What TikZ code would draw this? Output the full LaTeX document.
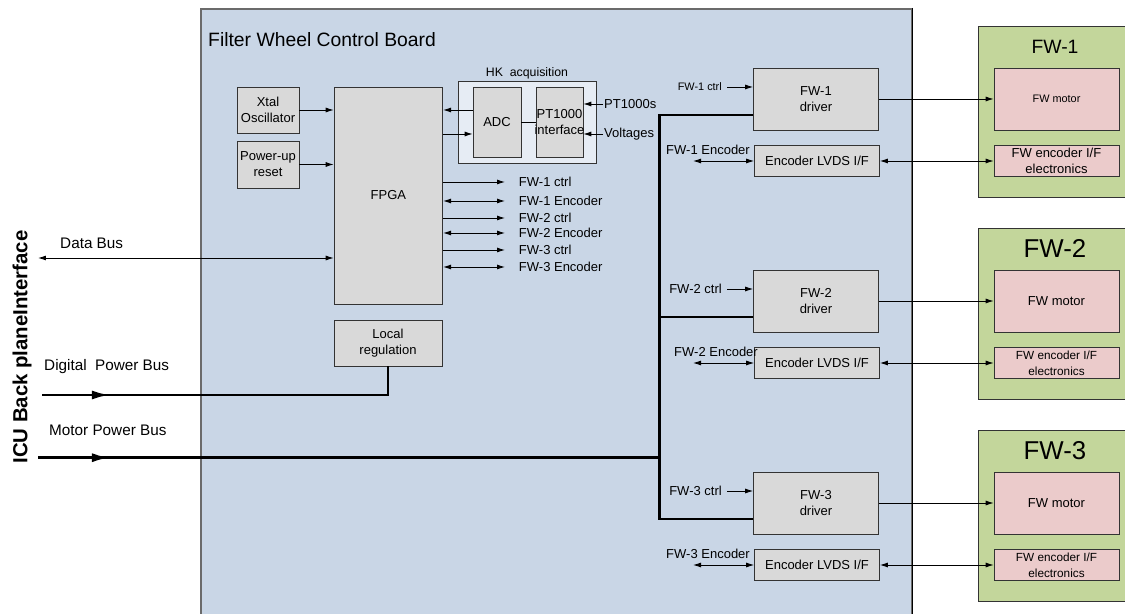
\documentclass[tikz,border=0pt]{standalone}
\usepackage{fontspec}
\setmainfont{Liberation Sans}
\usetikzlibrary{arrows.meta,positioning,decorations.markings}
\definecolor{fwBoard}{HTML}{C9D6E6}
\definecolor{fwEdge}{HTML}{6B6B6B}
\definecolor{fwGrey}{HTML}{D9D9D9}
\definecolor{fwHK}{HTML}{E6ECF4}
\definecolor{fwGreen}{HTML}{C3D69B}
\definecolor{fwPink}{HTML}{EBCBCB}

\begin{document}
\begin{tikzpicture}[x=0.02cm,y=-0.02cm,font=\fontsize{7.4}{9}\selectfont,
      box/.style={draw=black!80,fill=fwGrey,align=center,inner sep=1pt},
      part/.style={draw=black!80,fill=fwPink,align=center,inner sep=1pt,minimum width=2.5cm},
      unit/.style={draw=black!80,fill=fwGreen,minimum width=2.94cm,minimum height=3.42cm},
      lbl/.style={inner sep=0.5pt,anchor=west},
      arr/.style={-{Latex[length=1.6mm,width=1mm]},line width=0.5pt},
      biarr/.style={{Latex[length=1.6mm,width=1mm]}-{Latex[length=1.6mm,width=1mm]},line width=0.5pt},
      bus/.style={line width=1.6pt},
      busarr/.style={bus,postaction={decorate},decoration={markings,mark=at position #1 with {\arrow{Latex[length=3.6mm,width=1.8mm]}}}}]
    \useasboundingbox (0,0) rectangle (1125,614);
    % control board
    \node[draw=fwEdge,line width=1pt,fill=fwBoard,anchor=north west,inner sep=0,minimum width=14.22cm,minimum height=12.4cm] (board) at (200,8) {};
    \draw[line width=0.6pt] (board.north east) -- (board.south east);
    \node[lbl,font=\fontsize{11}{13}\selectfont] (title) at (207,40) {Filter Wheel Control Board};
    \node[rotate=90,font=\bfseries\fontsize{11.6}{14}\selectfont] (icu) at (22,347) {ICU Back planeInterface};
    % fpga side
    \node[box,minimum width=1.246cm,minimum height=0.92cm] (xtal) at (268,110) {Xtal\\Oscillator};
    \node[box,minimum width=1.246cm,minimum height=0.94cm] (rst) at (268,164.5) {Power-up\\reset};
    \node[box,minimum width=2.174cm,minimum height=4.34cm] (fpga) at (388.4,195.5) {FPGA};
    \node[box,minimum width=2.16cm,minimum height=0.92cm] (reg) at (388,343) {Local\\regulation};
    \draw[arr] (xtal.east) -- (xtal.east -| fpga.west);
    \draw[arr] (rst.east) -- (rst.east -| fpga.west);
    % housekeeping
    \node[draw=black!80,fill=fwHK,minimum width=2.76cm,minimum height=1.64cm] (hk) at (527,122) {};
    \node[font=\fontsize{7}{8}\selectfont] (hkt) at (527,73) {HK\ \ acquisition};
    \node[box,minimum width=0.96cm,minimum height=1.4cm] (adc) at (497,122) {ADC};
    \node[box,minimum width=0.94cm,minimum height=1.4cm] (pti) at (559.5,122) {\makebox[0pt]{PT1000}\\\makebox[0pt]{interface}};
    \node[lbl] (pts) at (603,104) {PT1000s};
    \node[lbl] (vlt) at (603,134) {Voltages};
    \draw (adc) -- (pti);
    \draw[arr] (pts.west) -- (pts.west -| pti.east);
    \draw[arr] (vlt.west) -- (vlt.west -| pti.east);
    \draw[arr] (adc.west |- xtal.east) -- (fpga.east |- xtal.east);
    \draw[arr] (fpga.east |- vlt.west) -- (adc.west |- vlt.west);
    % fpga outputs
    \foreach \y/\t/\k in {182/FW-1 ctrl/arr,201/FW-1 Encoder/biarr,218/FW-2 ctrl/arr,233/FW-2 Encoder/biarr,250/FW-3 ctrl/arr,267/FW-3 Encoder/biarr}{
      \node[lbl] (out\y) at (517.7,\y) {\t};
      \coordinate (tip\y) at (505,\y);
      \draw[\k] (fpga.east |- tip\y) -- (tip\y);
    }
    % backplane buses
    \coordinate (dbus) at (38,258);
    \coordinate (dpb) at (42,395);
    \coordinate (mpb) at (38,457.7);
    \coordinate (vbus) at (659.5,0);
    \node[lbl,font=\fontsize{8.7}{10}\selectfont] (dbl) at (59,243) {Data Bus};
    \node[lbl,font=\fontsize{8.7}{10}\selectfont] (dpl) at (43,367) {Digital\ \ Power Bus};
    \node[lbl,font=\fontsize{8.7}{10}\selectfont] (mpl) at (48,430) {Motor Power Bus};
    \draw[biarr] (dbus) -- (dbus -| fpga.west);
    \draw[busarr=1.36cm] (dpb) -- (dpb -| reg.south) -- (reg.south);
    \draw[busarr=1.44cm] (mpb) -- (mpb -| vbus);
    % wheel channels
    \foreach \i/\ex/\csz/\msz/\esz/\tsz in {1/0/6.2/6.2/7.4/11,2/8/7.4/7.4/6.7/14.7,3/0/7.4/7.4/6.7/14.7}{
      \pgfmathsetmacro\yy{99+202*(\i-1)}
      \node[box,minimum width=2.5cm,minimum height=1.24cm] (drv\i) at (816,\yy) {FW-\i\\driver};
      \node[box,minimum width=2.5cm,minimum height=0.62cm] (lvds\i) at (817,\yy+62) {Encoder LVDS I/F};
      \node[lbl,anchor=east,font=\fontsize{\csz}{9}\selectfont] (ctl\i) at (723,\yy-12) {FW-\i\ ctrl};
      \node[lbl] (enl\i) at (665+\ex,\yy+51) {FW-\i\ Encoder};
      \coordinate (ene\i) at (693,\yy+62);
      \coordinate (br\i) at ([yshift=-0.32cm]drv\i.west);
      \node[unit] (fw\i) at (1051.5,\yy+12.5) {};
      \node[font=\fontsize{\tsz}{16}\selectfont] (fwt\i) at (1055,\yy-52.5) {FW-\i};
      \node[part,minimum height=1.24cm,font=\fontsize{\msz}{9}\selectfont] (mot\i) at (1056.5,\yy) {FW motor};
      \node[part,minimum height=0.62cm,font=\fontsize{\esz}{9}\selectfont] (enc\i) at (1056.5,\yy+62) {FW encoder I/F\\electronics};
      \draw[arr] ([xshift=0.08cm]ctl\i.east) -- (ctl\i.east -| drv\i.west);
      \draw[biarr] (ene\i) -- (lvds\i.west);
      \draw[arr] (drv\i) -- (mot\i);
      \draw[biarr] (lvds\i) -- (enc\i);
    }
    \draw[bus] (br1) -- (br1 -| vbus) -- (br3 -| vbus) -- (br3);
    \draw[bus] (br2 -| vbus) -- (br2);
  \end{tikzpicture}
\end{document}
